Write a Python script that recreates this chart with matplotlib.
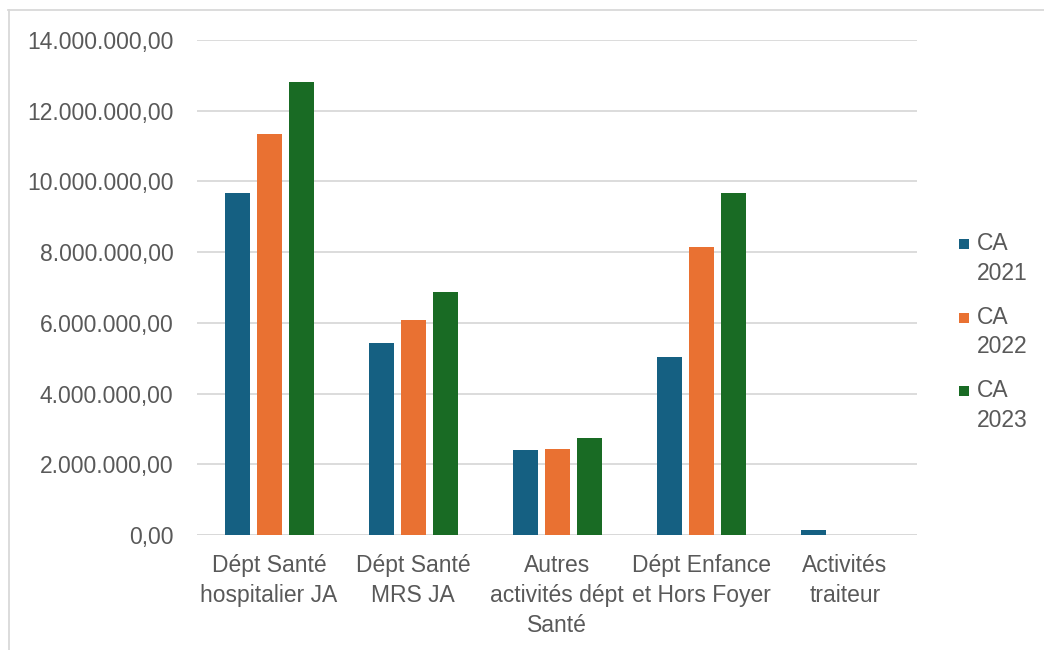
import matplotlib.pyplot as plt
import numpy as np
from matplotlib.patches import Rectangle
from matplotlib.lines import Line2D
from matplotlib.ticker import FuncFormatter

categories = ["Dépt Santé\nhospitalier JA", "Dépt Santé\nMRS JA",
              "Autres\nactivités dépt\nSanté", "Dépt Enfance\net Hors Foyer",
              "Activités\ntraiteur"]
series_names = ["CA\n2021", "CA\n2022", "CA\n2023"]
ca_2021 = [9670000, 5430000, 2400000, 5030000, 140000]
ca_2022 = [11350000, 6080000, 2430000, 8150000, 0]
ca_2023 = [12800000, 6880000, 2740000, 9670000, 0]
colors = ["#156082", "#E97132", "#196B24"]

plt.rcParams['font.family'] = ['Liberation Sans', 'DejaVu Sans']
text_col = "#595959"
fs = 16.5

fig = plt.figure(figsize=(10.44, 6.5), dpi=100)
ax = fig.add_axes([197/1044, 1 - 535/650, 720/1044, 495/650])

x = np.arange(len(categories))
w = 25/144
step = 32/144
for i, vals in enumerate([ca_2021, ca_2022, ca_2023]):
    ax.bar(x + (i - 1)*step, vals, width=w, color=colors[i], zorder=3)

ax.set_xlim(-0.5, len(categories) - 0.5)
ax.set_ylim(0, 14000000)
ax.set_yticks(np.arange(0, 14000001, 2000000))
ax.yaxis.set_major_formatter(FuncFormatter(
    lambda v, p: "{:,.2f}".format(v).replace(",", " ").replace(".", ",").replace(" ", ".")))
ax.set_xticks(x)
ax.set_xticklabels(categories, linespacing=1.38)
ax.tick_params(axis='both', length=0, labelsize=fs, colors=text_col)
ax.tick_params(axis='y', pad=17)
ax.tick_params(axis='x', pad=14)
ax.grid(axis='y', color="#D9D9D9", linewidth=1.3, zorder=0)
for s in ax.spines.values():
    s.set_visible(False)
ax.axhline(0, color="#D9D9D9", linewidth=1.3, zorder=2)

# legend
for i, name in enumerate(series_names):
    yc = 244 + i*73.5
    fig.add_artist(Rectangle((959/1044, 1 - (yc + 5)/650), 10/1044, 10/650,
                             facecolor=colors[i], edgecolor='none', transform=fig.transFigure))
    fig.text(977/1044, 1 - (yc - 12)/650, name, fontsize=fs, color=text_col,
             va='top', ha='left', linespacing=1.38)

# chart frame
fig.add_artist(Line2D([8/1044, 1], [1 - 10/650, 1 - 10/650], color="#D9D9D9",
                      linewidth=1.3, transform=fig.transFigure))
fig.add_artist(Line2D([8.5/1044, 8.5/1044], [0, 1 - 10/650], color="#D9D9D9",
                      linewidth=1.3, transform=fig.transFigure))

fig.savefig("out.png", dpi=100)
